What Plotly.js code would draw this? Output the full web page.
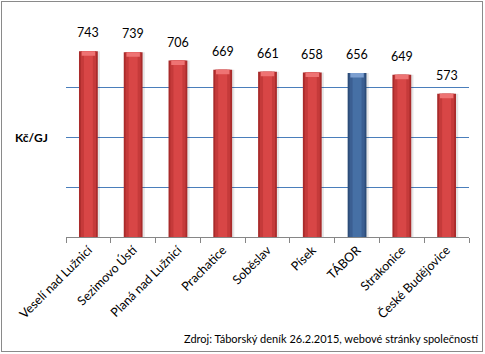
<!DOCTYPE html>
<html>
<head>
<meta charset="utf-8">
<script src="https://cdn.plot.ly/plotly-3.0.1.min.js"></script>
<style>
  html, body { margin: 0; padding: 0; background: #fff; }
  #wrap { position: absolute; left: 1px; top: 1px; width: 480px; height: 349px; border: 1px solid #8a8a8a; }
  #chart { width: 480px; height: 349px; }
</style>
</head>
<body>
<div id="wrap"><div id="chart"></div></div>
<script>
const categories = ["Veselí nad Lužnicí", "Sezimovo Ústí", "Planá nad Lužnicí", "Prachatice", "Soběslav", "Písek", "TÁBOR", "Strakonice", "České Budějovice"];
const values = [743, 739, 706, 669, 661, 658, 656, 649, 573];
const highlighted = "TÁBOR";
const yTitle = "Kč/GJ";
const sourceText = "Zdroj: Táborský deník 26.2.2015, webové stránky společností";

const isHi = categories.map(c => c === highlighted);
const pick = (red, blue) => isHi.map(h => h ? blue : red);

const baseFont = "Lato, 'Open Sans', sans-serif";

const shadow = {
  type: 'bar', x: categories, y: values, width: 0.46, offset: -0.2,
  marker: { color: 'rgba(0,0,0,0.10)', line: { width: 0 } }, hoverinfo: 'skip', showlegend: false
};
const layerDark = {
  type: 'bar', x: categories, y: values, width: 0.42,
  marker: { color: pick('#a92b2b', '#2c4c78'), line: { width: 0 } }, hoverinfo: 'skip', showlegend: false
};
const layerMid = {
  type: 'bar', x: categories, y: values, width: 0.34,
  marker: { color: pick('#c53a3a', '#3b5f92'), line: { width: 0 } }, hoverinfo: 'skip', showlegend: false
};
const layerLight = {
  type: 'bar', x: categories, y: values, width: 0.2,
  marker: { color: pick('#d84646', '#4670a5'), line: { width: 0 } }, hoverinfo: 'skip', showlegend: false
};
const capH = 18;
const layerCap = {
  type: 'bar', x: categories, y: values.map(() => capH), base: values.map(v => v - capH), width: 0.3,
  marker: { color: pick('#ee7373', '#7c9fd0'), line: { width: 0 } }, hoverinfo: 'skip', showlegend: false
};

const labelAnnotations = categories.map((c, i) => ({
  x: c, y: values[i], xref: 'x', yref: 'y', text: String(values[i]),
  showarrow: false, yanchor: 'bottom', yshift: 9,
  font: { family: baseFont, size: 12.5, color: '#000' }
}));

const layout = {
  width: 480, height: 349,
  margin: { l: 64, r: 13, t: 35, b: 114 },
  paper_bgcolor: '#fff', plot_bgcolor: '#fff',
  barmode: 'overlay',
  showlegend: false,
  xaxis: {
    type: 'category', tickangle: -45,
    tickfont: { family: baseFont, size: 12.5, color: '#000' },
    showline: true, linecolor: '#868686', linewidth: 1,
    ticks: 'outside', ticklen: 5, tickcolor: '#868686', tickson: 'boundaries',
    showgrid: false, fixedrange: true
  },
  yaxis: {
    range: [0, 800], dtick: 200, showticklabels: false,
    showgrid: true, gridcolor: '#4a7ebb', gridwidth: 1,
    zeroline: false, showline: false, ticks: '', fixedrange: true
  },
  annotations: labelAnnotations.concat([
    { xref: 'paper', yref: 'paper', x: -0.131, y: 0.5, xanchor: 'left', yanchor: 'middle',
      text: '<b>' + yTitle + '</b>', showarrow: false,
      font: { family: baseFont, size: 12, color: '#000' } },
    { xref: 'paper', yref: 'paper', x: 1.03, y: -0.505, xanchor: 'right', yanchor: 'middle',
      text: sourceText, showarrow: false,
      font: { family: baseFont, size: 11, color: '#000' } }
  ])
};

Plotly.newPlot('chart', [shadow, layerDark, layerMid, layerLight, layerCap], layout, { displayModeBar: false, staticPlot: true });
</script>
</body>
</html>
